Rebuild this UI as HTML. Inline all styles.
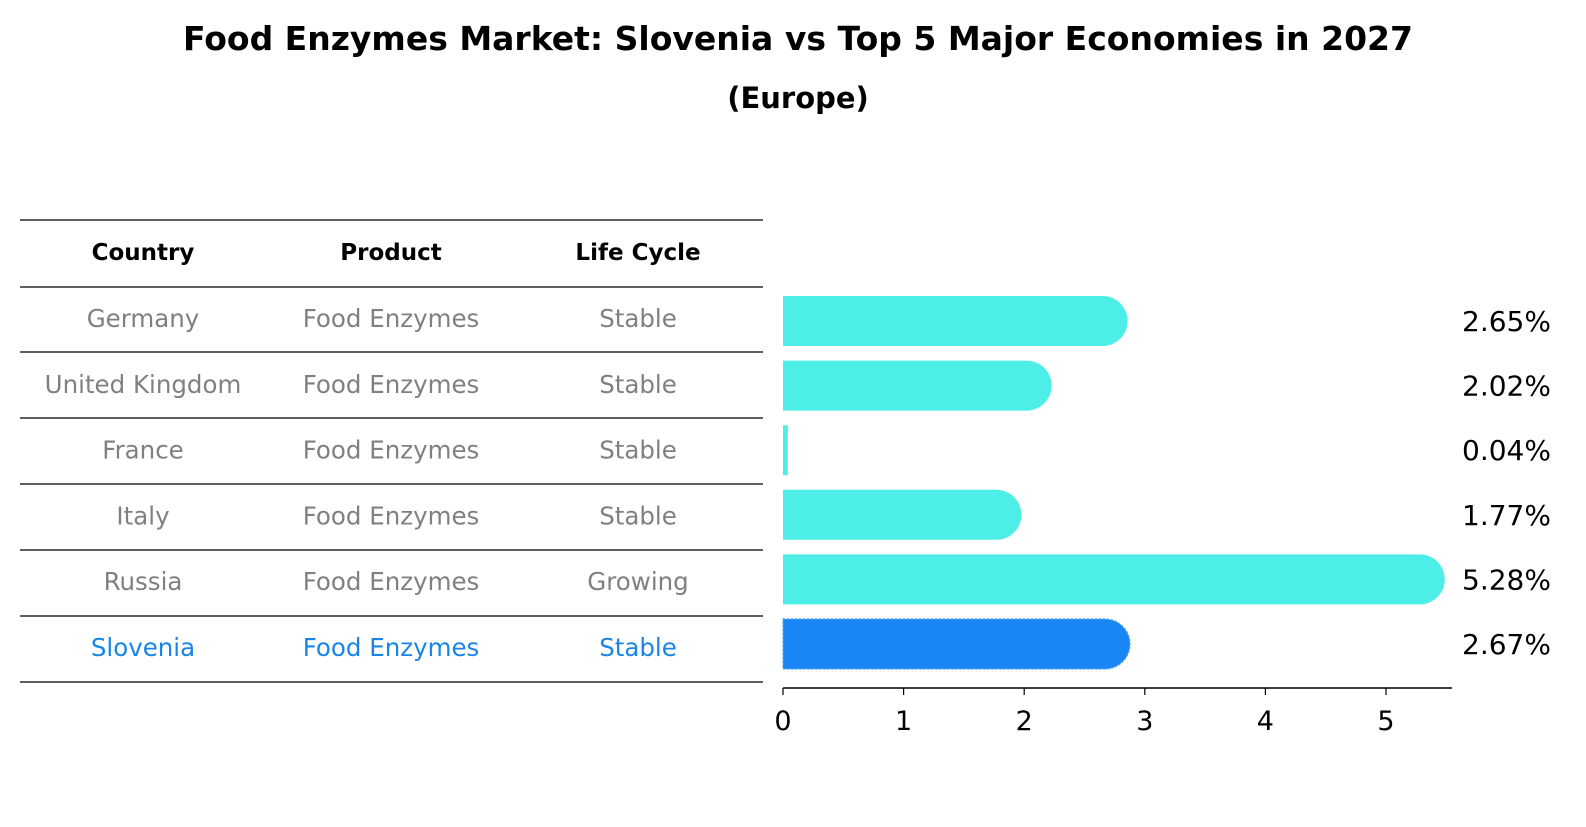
<!DOCTYPE html>
<html><head><meta charset="utf-8"><style>
body{margin:0;background:#fff;font-family:"DejaVu Sans","Liberation Sans",sans-serif;}
</style></head><body>
<svg width="1586" height="823" xmlns="http://www.w3.org/2000/svg" font-family="DejaVu Sans, Liberation Sans, sans-serif">
<text x="798" y="50" text-anchor="middle" font-size="33" font-weight="bold">Food Enzymes Market: Slovenia vs Top 5 Major Economies in 2027</text>
<text x="798" y="108" text-anchor="middle" font-size="29" font-weight="bold">(Europe)</text>
<g id="table"></g>
<g id="bars"></g>
</svg>
<script>
const countries=["Germany","United Kingdom","France","Italy","Russia","Slovenia"];
const products=["Food Enzymes","Food Enzymes","Food Enzymes","Food Enzymes","Food Enzymes","Food Enzymes"];
const lifecycle=["Stable","Stable","Stable","Stable","Growing","Stable"];
const values=[2.65,2.02,0.04,1.77,5.28,2.67];
const ticks=[0,1,2,3,4,5];
const NS="http://www.w3.org/2000/svg";
const T=document.getElementById("table"),B=document.getElementById("bars");
function mk(tag,at,p){const e=document.createElementNS(NS,tag);for(const k in at)e.setAttribute(k,at[k]);p.appendChild(e);return e;}
const lines=[220,287,352,418,484,550,616,682];
lines.forEach(y=>{const l=mk("line",{x1:20,x2:763,y1:y,y2:y,stroke:"#000","stroke-width":1.2},T);

});
const cx=[143,391,638];
["Country","Product","Life Cycle"].forEach((h,i)=>{const t=mk("text",{x:cx[i],y:260,"text-anchor":"middle","font-size":23,"font-weight":"bold"},T);t.textContent=h;

});
const x=v=>783+v*120.6;
const yc=i=>321+i*64.6;
countries.forEach((c,i)=>{
 const col=c==="Slovenia"?"#1a85e8":"#808080";
 [c,products[i],lifecycle[i]].forEach((s,j)=>{const t=mk("text",{x:cx[j],y:lines[1]+i*65.8+40,"text-anchor":"middle","font-size":24.5,fill:col},T);t.textContent=s;
 
 });
 const hi=c==="Slovenia";
 const fill=hi?"#1a85f5":"#4deee8";
 const w=x(values[i])-783,h=50,y0=yc(i)-25;
 const d=w>25?`M783 ${y0} h${w} a25 25 0 0 1 0 ${h} h${-w} z`:`M783 ${y0} h${w} v${h} h${-w} z`;
 const p=mk("path",{d:d,fill:fill},B);
 if(hi){p.setAttribute("stroke","#4aa8ff");p.setAttribute("stroke-dasharray","2 2");p.setAttribute("stroke-width","1.5");}
 
 
 const t=mk("text",{x:1462,y:yc(i)+10,"font-size":28},B);t.textContent=values[i].toFixed(2)+"%";
 
 
});
const ax=mk("line",{x1:783,x2:1452,y1:688,y2:688,stroke:"#000","stroke-width":1.5},B);


ticks.forEach(v=>{const l=mk("line",{x1:x(v),x2:x(v),y1:688,y2:695,stroke:"#000","stroke-width":1.2},B);


const t=mk("text",{x:x(v),y:730,"text-anchor":"middle","font-size":27},B);t.textContent=v;

});
</script>
</body></html>
